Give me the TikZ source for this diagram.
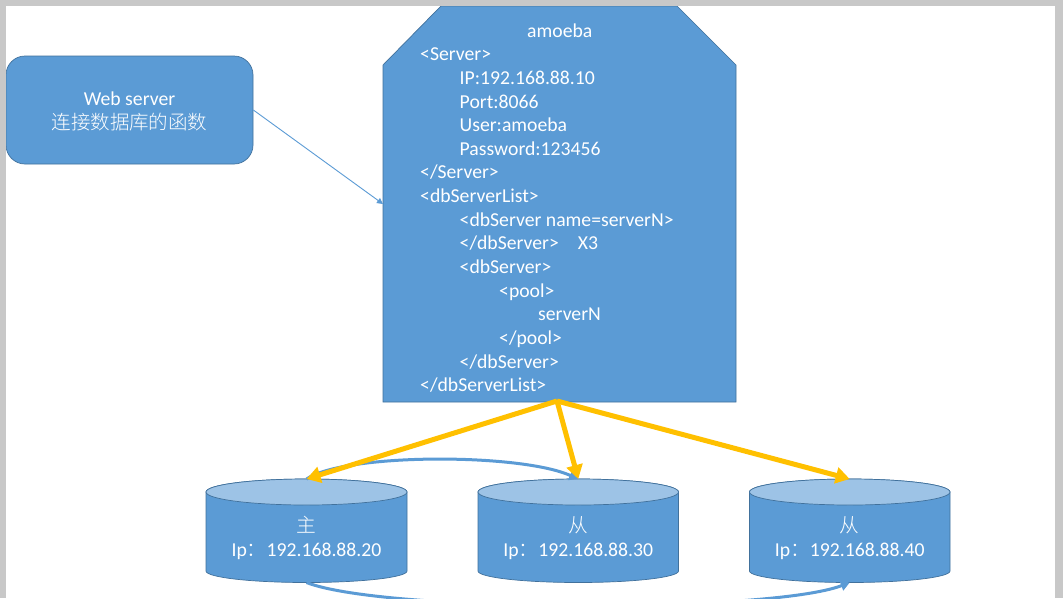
\documentclass[tikz,border=0pt]{standalone}
\usepackage{fontspec}
\setmainfont{Carlito}
\newfontfamily\cjkfont{Noto Sans CJK SC Light}
\usetikzlibrary{arrows.meta}
\definecolor{shapeblue}{HTML}{5B9BD5}
\definecolor{edgeblue}{HTML}{41719C}
\definecolor{topblue}{HTML}{9DC3E6}
\definecolor{goldline}{HTML}{FFC000}
\definecolor{framegray}{HTML}{C8C8C8}
\tikzset{
  shapebox/.style={fill=shapeblue,draw=edgeblue,line width=0.7pt},
  whitetext/.style={text=white,inner sep=0pt,font=\fontsize{19.7}{23.65}\selectfont},
  goldarrow/.style={draw=goldline,line width=5pt,-{Triangle[length=14pt,width=16pt]}},
  bluecurve/.style={draw=shapeblue,line width=3pt,-{Triangle[length=9pt,width=10pt]}},
  thinarrow/.style={draw=shapeblue,line width=0.9pt,-{Triangle[length=6pt,width=6pt]}}
}
\newcommand{\dbdrum}[5]{% name, left x, right x, first line, second line
  \pgfmathsetmacro{\drumc}{(#2+#3)/2}
  \pgfmathsetlengthmacro{\drumr}{(#3-#2)/2}
  \draw[shapebox] (#2,492) -- (#2,571)
     arc[start angle=180,end angle=360,x radius=\drumr,y radius=11.5pt]
     -- (#3,492) arc[start angle=0,end angle=180,x radius=\drumr,y radius=13pt] -- cycle;
  \draw[fill=topblue,draw=edgeblue,line width=0.7pt] (\drumc,492) ellipse [x radius=\drumr,y radius=13pt];
  \coordinate (#1top) at (\drumc,479);
  \coordinate (#1bot) at (\drumc,582.5);
  \node[whitetext,align=center] (#1label) at (\drumc,538) {{\cjkfont #4}\\#5};
}
\begin{document}
\begin{tikzpicture}[x=1pt,y=-1pt]
\useasboundingbox (0,0) rectangle (1063,598);
\fill[white] (0,0) rectangle (1063,598);

% web server
\node[shapebox,rounded corners=19pt,minimum width=247pt,minimum height=108pt,inner sep=0pt] (web) at (129.5,110) {};
\node[whitetext,align=center] (webtext) at (129.5,111.5)
  {Web server\\{\cjkfont\fontsize{19.5}{23.65}\selectfont 连接数据库的函数}};

% amoeba shape
\draw[shapebox] (383,65) -- (441,6) -- (677,6) -- (736,65) -- (736,402) -- (383,402) -- cycle;
\coordinate (amoebain) at (383,204);
\coordinate (amoebaout) at (557,401);
\node[whitetext,align=left,anchor=north west] (amoebatext) at (420,23.2) {%
\hspace*{107pt}amoeba\\
<Server>\\
\hspace*{39.5pt}IP:192.168.88.10\\
\hspace*{39.5pt}Port:8066\\
\hspace*{39.5pt}User:amoeba\\
\hspace*{39.5pt}Password:123456\\
</Server>\\
<dbServerList>\\
\hspace*{39.5pt}<dbServer name=serverN>\\
\hspace*{39.5pt}</dbServer>\hspace{19pt}X3\\
\hspace*{39.5pt}<dbServer>\\
\hspace*{79pt}<pool>\\
\hspace*{118pt}serverN\\
\hspace*{79pt}</pool>\\
\hspace*{39.5pt}</dbServer>\\
</dbServerList>};

% cylinders
\dbdrum{master}{206}{407}{主}{Ip{\cjkfont ：}192.168.88.20}
\dbdrum{slavea}{478}{678.5}{从}{Ip{\cjkfont ：}192.168.88.30}
\dbdrum{slaveb}{749.5}{950}{从}{Ip{\cjkfont ：}192.168.88.40}

% connectors
\draw[thinarrow] (web.east) -- (amoebain);
\draw[bluecurve] (mastertop) .. controls (345,453) and (520,453) .. (slaveatop);
\draw[bluecurve] (masterbot) .. controls (385,613) and (770,613) .. (slavebbot);
\draw[goldarrow] (amoebaout) -- (mastertop);
\draw[goldarrow] (amoebaout) -- (slaveatop);
\draw[goldarrow] (amoebaout) -- (slavebtop);

% window frame
\fill[framegray] (0,0) rectangle (1063,6);
\fill[framegray] (0,0) rectangle (6,598);
\fill[framegray] (1055,0) rectangle (1063,598);
\end{tikzpicture}
\end{document}
